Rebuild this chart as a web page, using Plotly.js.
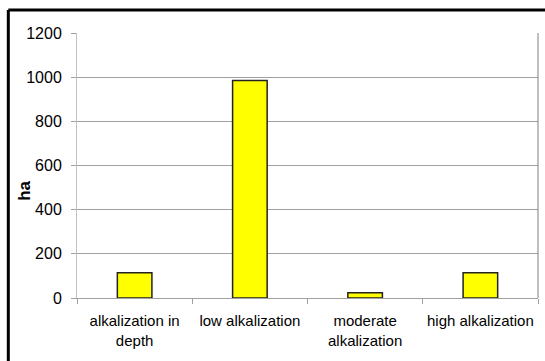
<!DOCTYPE html>
<html>
<head>
<meta charset="utf-8">
<script src="https://cdn.plot.ly/plotly-3.0.1.min.js"></script>
<style>
  html, body { margin: 0; padding: 0; background: #ffffff; }
  #chart { width: 545px; height: 361px; }
</style>
</head>
<body>
<div id="chart"></div>
<script>
// Area (ha) per alkalization class
const categories = ["alkalization in<br>depth", "low alkalization", "moderate<br>alkalization", "high alkalization"];
const areaHa = [114, 985, 24, 114];
const yTicks = [0, 200, 400, 600, 800, 1000, 1200];
const yTitle = "ha";

const trace = {
  type: "bar",
  x: categories,
  y: areaHa,
  marker: { color: "#ffff00", line: { color: "#222222", width: 1.5 } },
  hoverinfo: "x+y"
};

const layout = {
  width: 545,
  height: 361,
  margin: { l: 77, r: 7, t: 33, b: 63 },
  paper_bgcolor: "#ffffff",
  plot_bgcolor: "#ffffff",
  showlegend: false,
  bargap: 0.7,
  font: { family: "Liberation Sans, Arial, sans-serif", size: 15, color: "#000000" },
  xaxis: {
    type: "category",
    showline: true,
    linecolor: "#a0a0a0",
    linewidth: 1,
    ticks: "outside",
    tickson: "boundaries",
    ticklen: 5,
    tickcolor: "#a0a0a0",
    tickangle: 0,
    ticklabelstandoff: 9,
    showgrid: false,
    tickfont: { size: 15, color: "#000000" },
    fixedrange: true
  },
  yaxis: {
    range: [0, 1200],
    tickvals: yTicks,
    ticktext: yTicks.map(String),
    showline: true,
    linecolor: "#c0c0c0",
    linewidth: 1,
    ticks: "outside",
    ticklen: 5,
    tickcolor: "#a0a0a0",
    ticklabelstandoff: 6,
    showgrid: true,
    gridcolor: "#a0a0a0",
    gridwidth: 1,
    zeroline: false,
    tickfont: { size: 16, color: "#000000" },
    fixedrange: true
  },
  annotations: [
    // y-axis title, placed a little below the axis middle
    { text: "<b>" + yTitle + "</b>", xref: "paper", yref: "paper", x: -0.113, y: 0.404,
      xanchor: "center", yanchor: "middle", textangle: -90, showarrow: false,
      font: { size: 17, color: "#000000" } }
  ],
  shapes: [
    // right edge of the plot frame
    { type: "line", xref: "paper", yref: "paper", x0: 1, x1: 1, y0: 0, y1: 1,
      line: { color: "#808080", width: 1 } },
    // outer chart border (left and top edges)
    { type: "line", xref: "paper", yref: "paper", x0: -0.149, x1: -0.149, y0: -0.3, y1: 1.087,
      line: { color: "#000000", width: 3 } },
    { type: "line", xref: "paper", yref: "paper", x0: -0.149, x1: 1.02, y0: 1.087, y1: 1.087,
      line: { color: "#000000", width: 3 } }
  ]
};

Plotly.newPlot("chart", [trace], layout, { displayModeBar: false, staticPlot: true });
</script>
</body>
</html>
